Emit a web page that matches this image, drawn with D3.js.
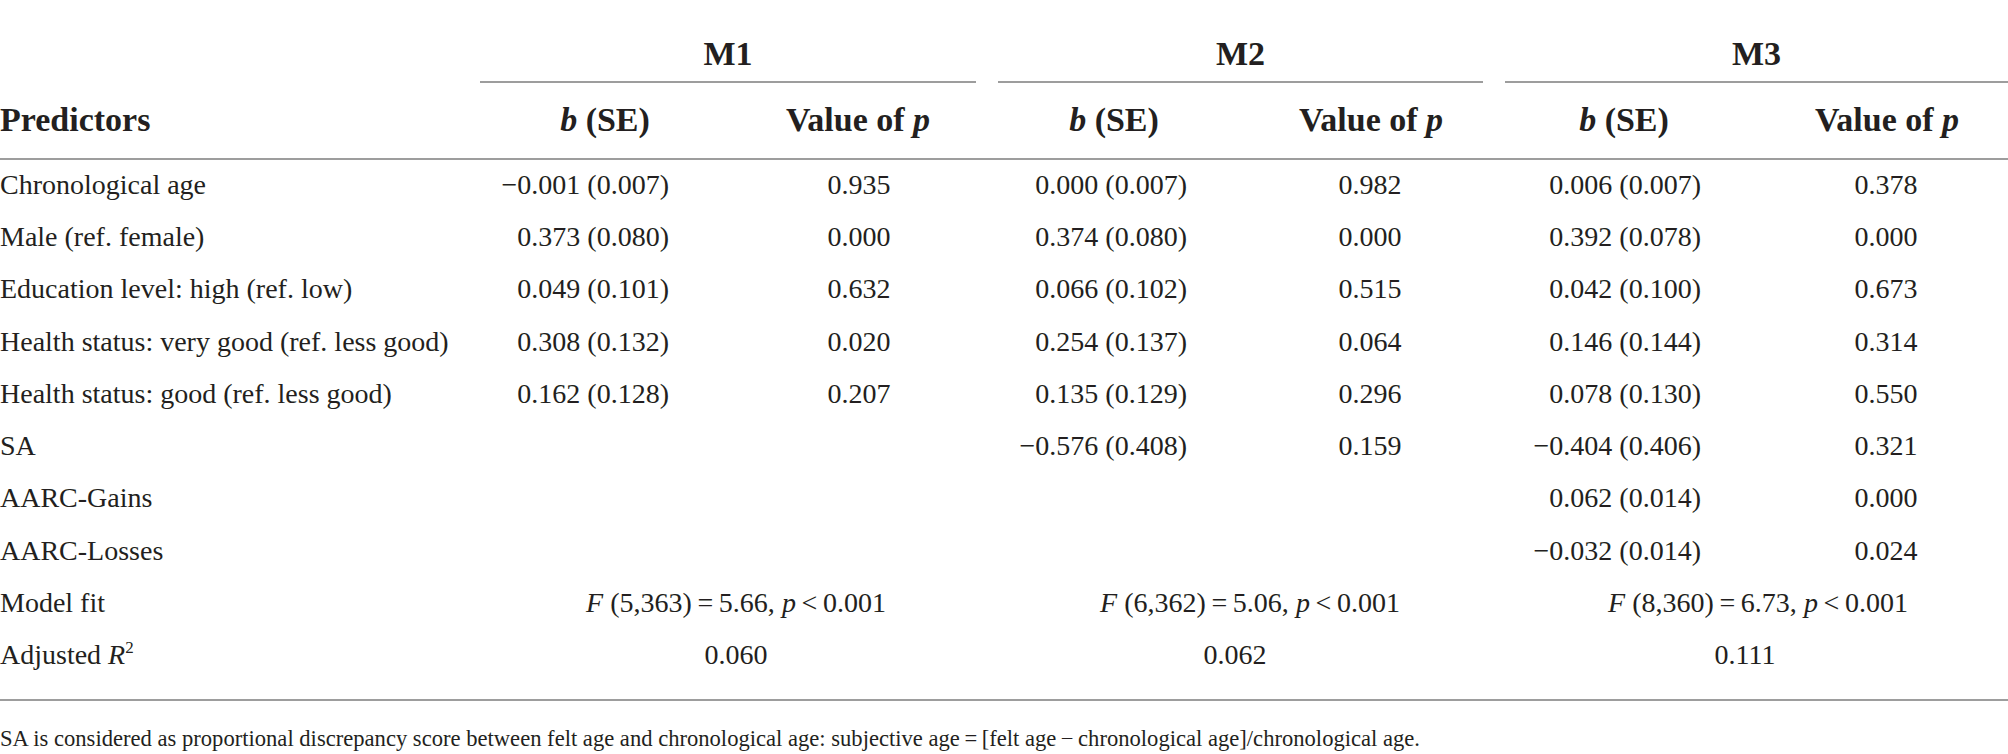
<!DOCTYPE html>
<html>
<head>
<meta charset="utf-8">
<script src="https://cdn.jsdelivr.net/npm/d3@7"></script>
<style>
  html, body { margin: 0; padding: 0; background: #fff; }
  svg text { font-family: "Liberation Serif", "DejaVu Serif", serif; fill: #231f20; }
</style>
</head>
<body>
<svg id="table" width="2008" height="754"></svg>
<script>
// Table content
var models = ["M1", "M2", "M3"];

var predictors = [
    "Chronological age",
    "Male (ref. female)",
    "Education level: high (ref. low)",
    "Health status: very good (ref. less good)",
    "Health status: good (ref. less good)",
    "SA",
    "AARC-Gains",
    "AARC-Losses"
];

// b (SE) and p values per model, null where the predictor is not in the model
var m1_b = ["\u22120.001 (0.007)", "0.373 (0.080)", "0.049 (0.101)", "0.308 (0.132)", "0.162 (0.128)", null, null, null];
var m1_p = ["0.935", "0.000", "0.632", "0.020", "0.207", null, null, null];
var m2_b = ["0.000 (0.007)", "0.374 (0.080)", "0.066 (0.102)", "0.254 (0.137)", "0.135 (0.129)", "\u22120.576 (0.408)", null, null];
var m2_p = ["0.982", "0.000", "0.515", "0.064", "0.296", "0.159", null, null];
var m3_b = ["0.006 (0.007)", "0.392 (0.078)", "0.042 (0.100)", "0.146 (0.144)", "0.078 (0.130)", "\u22120.404 (0.406)", "0.062 (0.014)", "\u22120.032 (0.014)"];
var m3_p = ["0.378", "0.000", "0.673", "0.314", "0.550", "0.321", "0.000", "0.024"];

// Model fit: F(df1, df2) = value
var fit_df = ["5,363", "6,362", "8,360"];
var fit_F = ["5.66", "5.06", "6.73"];
var fit_p = ["0.001", "0.001", "0.001"];
var adj_r2 = ["0.060", "0.062", "0.111"];

var footnote = "SA is considered as proportional discrepancy score between felt age and chronological age: subjective age\u2009=\u2009[felt age\u2009\u2212\u2009chronological age]/chronological age.";

chart();

function chart() {
    var svg = d3.select("#table"),
        width = +svg.attr("width"),
        fontSize = 28,
        headSize = 34;

    var rule = "#9d9d9d";

    // one row per predictor plus the two summary rows
    var rowKeys = predictors.concat(["Model fit", "Adjusted R2"]);
    var y = d3.scalePoint()
        .domain(rowKeys)
        .range([194, 664]);

    // model spans: left and right end of the short rule under each header
    var spanL = d3.scaleOrdinal().domain(models).range([480, 998, 1505]);
    var spanR = d3.scaleOrdinal().domain(models).range([976, 1483, width]);

    // column anchors inside each model: b(SE) right edge and p centre
    var bRight = d3.scaleOrdinal().domain(models).range([669, 1187, 1701]);
    var pMid = d3.scaleOrdinal().domain(models).range([859, 1370, 1886]);
    var bHead = d3.scaleOrdinal().domain(models).range([605, 1114, 1624]);
    var pHead = d3.scaleOrdinal().domain(models).range([858, 1371, 1887]);

    var bCols = [m1_b, m2_b, m3_b],
        pCols = [m1_p, m2_p, m3_p];

    // Model group headers
    svg.selectAll("text.model")
        .data(models)
        .enter().append("text")
        .attr("class", "model")
        .attr("x", d => (spanL(d) + spanR(d)) / 2)
        .attr("y", 65)
        .attr("text-anchor", "middle")
        .style("font-size", headSize + "px")
        .style("font-weight", "bold")
        .text(d => d);

    // short rules under the model headers
    svg.selectAll("line.span")
        .data(models)
        .enter().append("line")
        .attr("class", "span")
        .attr("x1", d => spanL(d))
        .attr("x2", d => spanR(d))
        .attr("y1", 82).attr("y2", 82)
        .attr("stroke", rule)
        .attr("stroke-width", 2);

    // Column header row
    svg.append("text")
        .attr("x", 0).attr("y", 131)
        .style("font-size", headSize + "px")
        .style("font-weight", "bold")
        .text("Predictors");

    models.forEach(function(m) {
        var hb = svg.append("text")
            .attr("x", bHead(m)).attr("y", 131)
            .attr("text-anchor", "middle")
            .style("font-size", headSize + "px")
            .style("font-weight", "bold");
        hb.append("tspan").style("font-style", "italic").text("b");
        hb.append("tspan").text(" (SE)");

        var hp = svg.append("text")
            .attr("x", pHead(m)).attr("y", 131)
            .attr("text-anchor", "middle")
            .style("font-size", headSize + "px")
            .style("font-weight", "bold");
        hp.append("tspan").text("Value of ");
        hp.append("tspan").style("font-style", "italic").text("p");
    });

    // full width rules
    svg.selectAll("line.rule")
        .data([159, 700])
        .enter().append("line")
        .attr("class", "rule")
        .attr("x1", 0).attr("x2", width)
        .attr("y1", d => d).attr("y2", d => d)
        .attr("stroke", rule)
        .attr("stroke-width", 2);

    // Row labels
    svg.selectAll("text.pred")
        .data(predictors)
        .enter().append("text")
        .attr("class", "pred")
        .attr("x", 0)
        .attr("y", d => y(d))
        .style("font-size", fontSize + "px")
        .text(d => d);

    svg.append("text")
        .attr("x", 0).attr("y", y("Model fit"))
        .style("font-size", fontSize + "px")
        .text("Model fit");

    var r2 = svg.append("text")
        .attr("x", 0).attr("y", y("Adjusted R2"))
        .style("font-size", fontSize + "px");
    r2.append("tspan").text("Adjusted ");
    r2.append("tspan").style("font-style", "italic").text("R");
    r2.append("tspan").attr("dy", -11).style("font-size", "17px").text("2");

    // b (SE) and p cells
    models.forEach(function(m, mi) {
        svg.selectAll("text.b" + mi)
            .data(bCols[mi].map((v, i) => ({v: v, row: predictors[i]})).filter(d => d.v != null))
            .enter().append("text")
            .attr("class", "b" + mi)
            .attr("x", bRight(m))
            .attr("y", d => y(d.row))
            .attr("text-anchor", "end")
            .style("font-size", fontSize + "px")
            .text(d => d.v);

        svg.selectAll("text.p" + mi)
            .data(pCols[mi].map((v, i) => ({v: v, row: predictors[i]})).filter(d => d.v != null))
            .enter().append("text")
            .attr("class", "p" + mi)
            .attr("x", pMid(m))
            .attr("y", d => y(d.row))
            .attr("text-anchor", "middle")
            .style("font-size", fontSize + "px")
            .text(d => d.v);
    });

    // Model fit and adjusted R2, centred across each model span
    var fitMid = d3.scaleOrdinal().domain(models).range([736, 1250, 1758]);
    var r2Mid = d3.scaleOrdinal().domain(models).range([736, 1235, 1745]);

    models.forEach(function(m, mi) {
        var t = svg.append("text")
            .attr("x", fitMid(m)).attr("y", y("Model fit"))
            .attr("text-anchor", "middle")
            .style("font-size", fontSize + "px");
        t.append("tspan").style("font-style", "italic").text("F");
        t.append("tspan").text(" (" + fit_df[mi] + ")\u2009=\u2009" + fit_F[mi] + ", ");
        t.append("tspan").style("font-style", "italic").text("p");
        t.append("tspan").text("\u2009<\u2009" + fit_p[mi]);

        svg.append("text")
            .attr("x", r2Mid(m)).attr("y", y("Adjusted R2"))
            .attr("text-anchor", "middle")
            .style("font-size", fontSize + "px")
            .text(adj_r2[mi]);
    });

    // Footnote
    svg.append("text")
        .attr("x", 0).attr("y", 746)
        .style("font-size", "22.6px")
        .text(footnote);
}
</script>
</body>
</html>
